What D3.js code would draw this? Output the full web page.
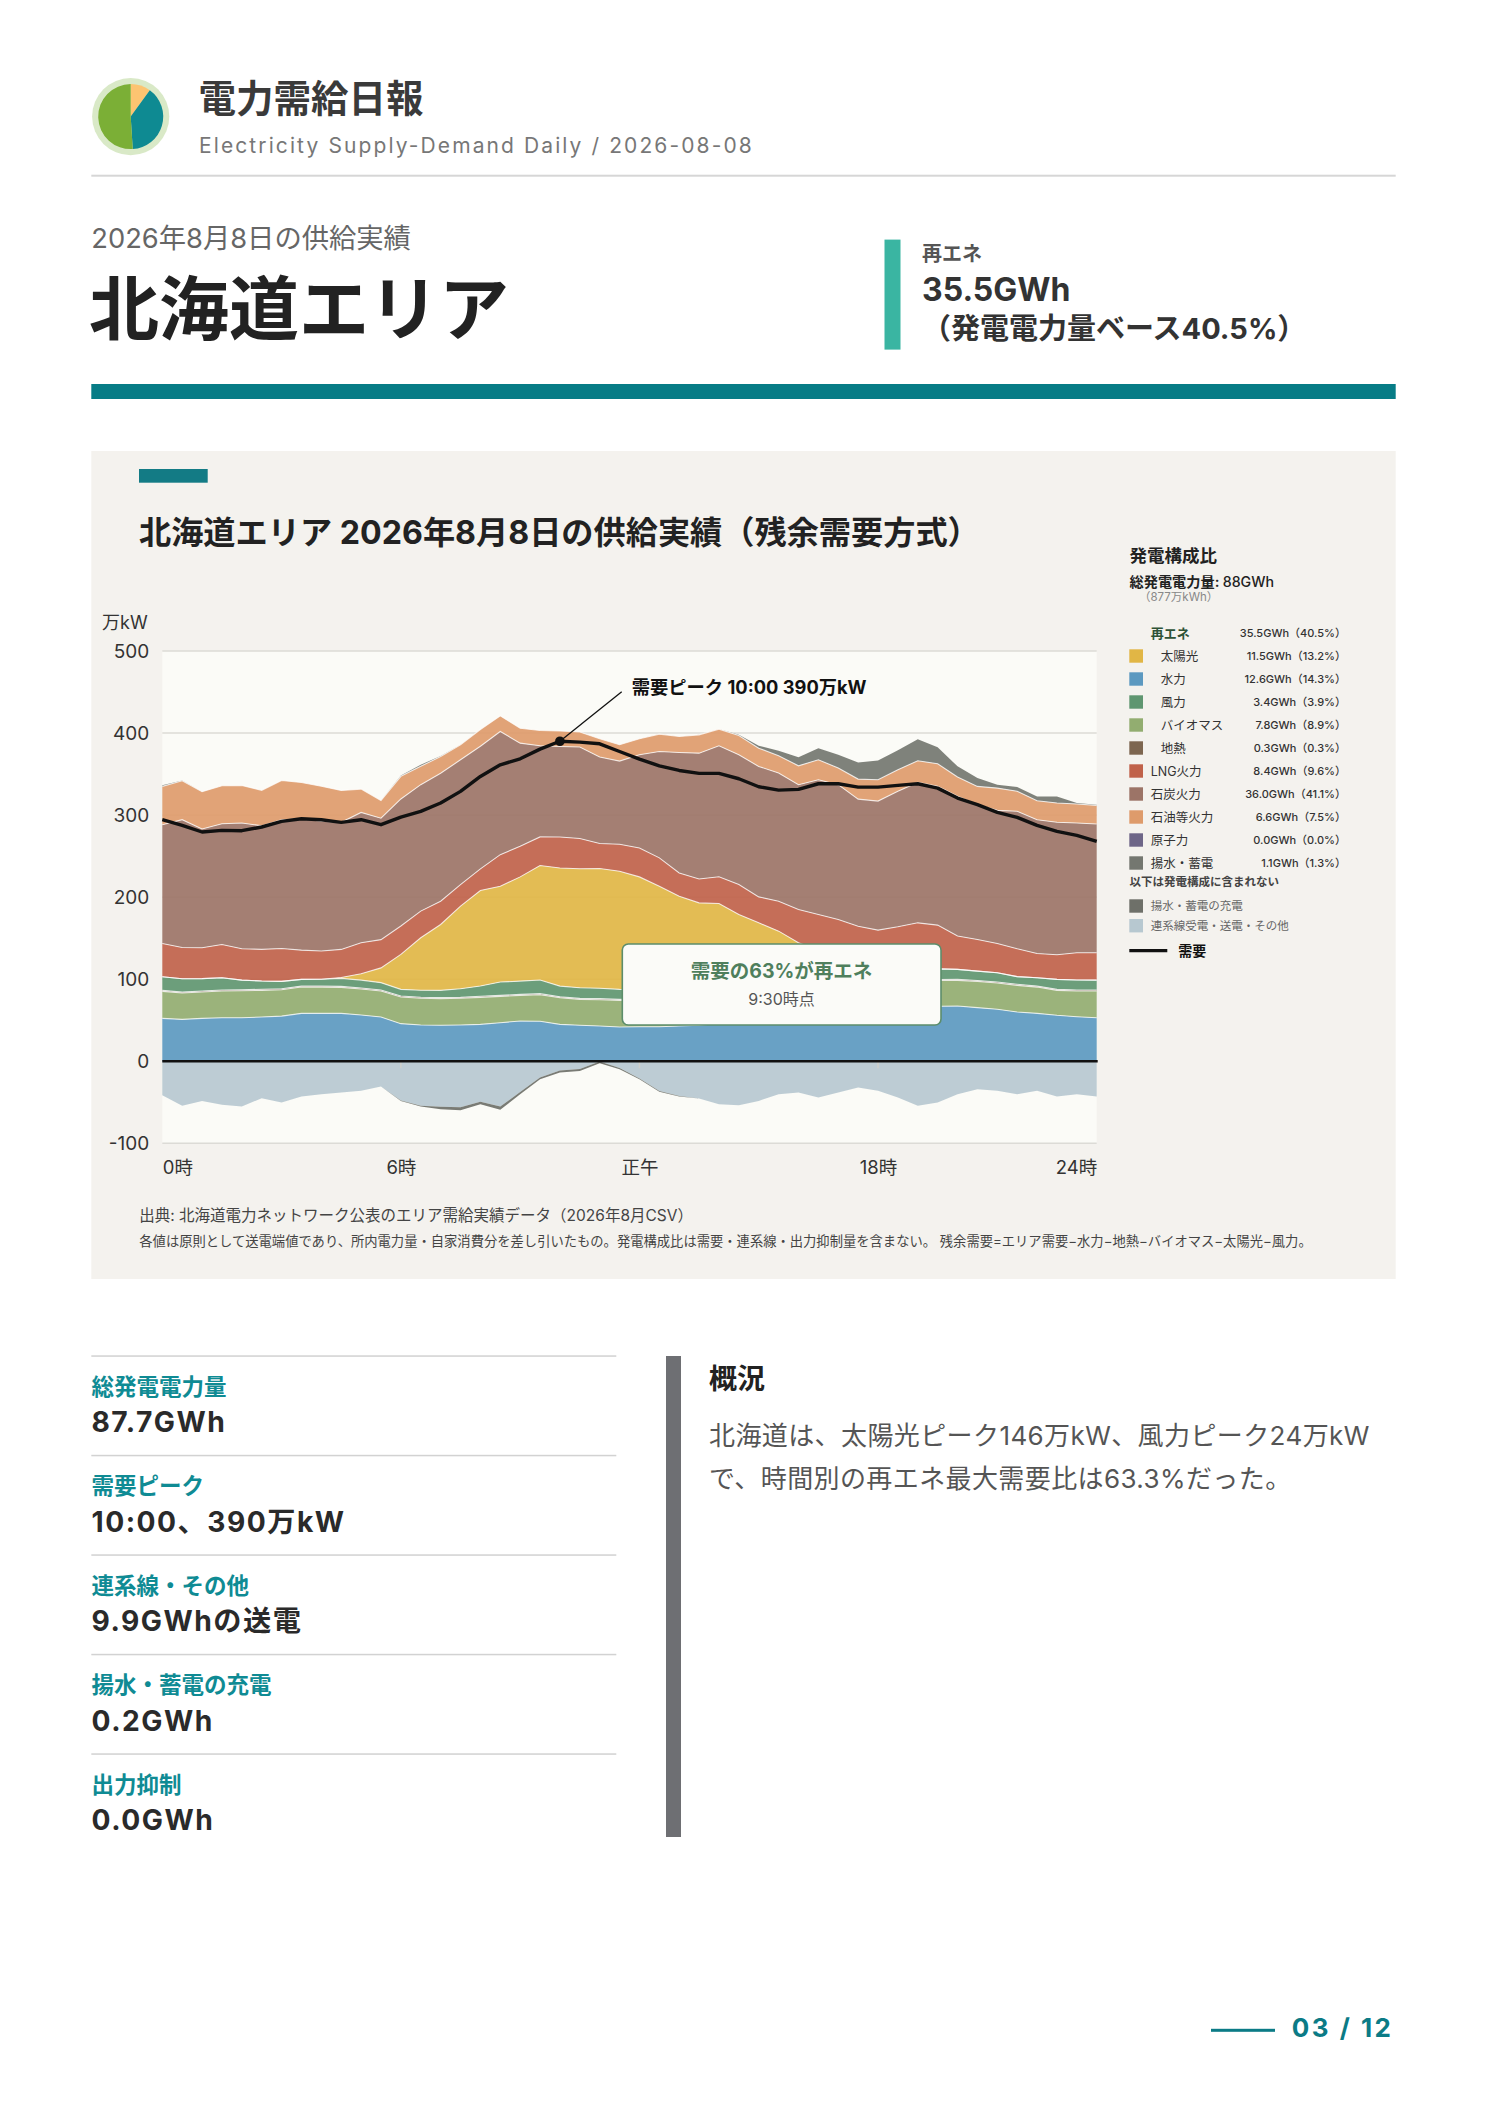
<!DOCTYPE html>
<html lang="ja">
<head>
<meta charset="UTF-8">
<title>電力需給日報 北海道エリア</title>
<script src="https://cdn.jsdelivr.net/npm/d3@7"></script>
<style>
  body { margin: 0; background: #fff; }
  svg { display: block; font-family: Inter, 'Noto Sans CJK JP', 'Noto Sans', sans-serif; }
  text { dominant-baseline: central; }
</style>
</head>
<body>
<svg id="page" width="1488" height="2105"></svg>
<script>
// 30分値 (万kW), 0:00 〜 23:30
const demand = [294.4,287.5,279.4,281.4,281.0,285.5,292.4,295.6,294.4,291.2,294.4,288.3,297.6,304.5,314.7,328.9,
  347.1,361.3,368.6,380.4,390.0,388.9,386.9,377.5,368.2,360.1,354.4,350.8,350.8,344.3,334.6,330.5,
  331.3,338.2,338.2,334.1,334.1,336.2,338.2,332.9,320.8,312.7,303.3,297.2,287.5,280.2,275.3,268.0];
const hydro = [52.3,51.0,52.3,53.0,53.0,54.0,55.0,58.4,58.4,58.4,56.4,54.0,45.8,44.2,43.8,44.2,
  45.0,47.0,49.0,48.7,45.0,43.8,43.0,41.8,42.0,42.0,43.0,44.0,46.0,48.0,50.0,53.0,
  56.0,58.0,60.0,62.0,64.0,65.0,66.0,67.0,67.3,65.3,63.3,60.0,58.4,56.0,54.3,53.1];
const biomass = [32.9,32.1,32.1,32.6,33.0,32.4,32.2,32.0,32.0,31.6,31.6,31.6,32.5,32.5,32.5,32.5,
  32.9,32.1,31.3,32.4,32.5,31.6,32.0,32.4,32.3,32.2,32.0,31.8,31.8,31.6,31.6,31.4,
  31.3,31.3,31.2,31.2,31.3,31.3,31.3,31.4,31.3,32.0,32.0,32.5,32.0,30.4,31.3,32.5];
const geothermal = [1.2,1.2,1.3,1.2,1.2,1.3,1.2,1.2,1.3,1.2,1.2,1.3,1.2,1.3,1.2,1.2,
  1.3,1.2,1.2,1.3,1.2,1.2,1.3,1.2,1.2,1.3,1.2,1.2,1.3,1.2,1.2,1.3,
  1.2,1.2,1.3,1.2,1.2,1.3,1.2,1.2,1.3,1.2,1.2,1.3,1.2,1.2,1.3,1.2];
const wind = [16.6,16.3,15.0,15.0,11.7,10.1,8.9,8.2,8.2,9.8,9.7,8.9,8.1,8.5,8.9,10.5,
  12.5,16.2,16.2,16.6,12.9,13.0,12.6,12.2,12.0,12.0,14.0,17.0,20.0,23.0,24.0,22.0,
  19.0,17.0,15.0,14.0,13.5,13.0,13.0,13.0,12.1,11.4,11.4,9.3,10.2,12.2,12.1,12.1];
const solar = [0,0,0,0,0,0,0,0,0,1.0,7.7,18.0,42.6,64.0,80.3,100.6,
  116.4,116.8,127.0,139.5,144.0,145.0,146.0,144.0,137.2,125.9,110.9,99.0,93.2,75.0,61.9,50.9,
  36.9,28.0,20.0,12.0,6.0,2.0,0.3,0,0,0,0,0,0,0,0,0];
const lng = [40.6,38.1,37.7,40.5,38.2,38.6,40.2,35.6,34.4,34.3,37.8,34.4,34.6,32.5,28.3,26.3,
  26.3,38.5,37.3,34.9,37.7,36.9,30.4,32.8,35.3,34.5,28.4,29.2,32.5,36.5,31.6,36.5,
  40.5,43.3,45.3,44.2,43.8,51.3,56.9,53.3,40.6,38.5,35.7,34.1,29.6,30.0,33.3,33.3];
const coal = [144.7,155.7,144.7,147.2,153.2,150.7,156.9,160.2,158.2,154.9,158.9,148.0,154.9,154.1,156.0,152.1,
  149.6,150.1,125.7,111.1,110.3,111.5,105.5,101.4,113.5,129.7,146.8,153.3,159.7,158.2,159.0,156.2,
  152.1,164.3,164.3,154.9,157.3,165.1,171.1,169.1,170.3,164.3,162.2,167.5,163.0,161.4,158.1,156.9];
const oil = [46.7,47.4,45.5,46.3,45.9,43.1,47.9,44.2,42.6,38.9,28.4,21.5,27.6,22.3,20.5,18.2,
  20.3,19.0,18.2,18.6,19.0,18.2,22.3,19.9,19.5,21.1,19.5,22.3,20.3,23.5,22.3,21.1,
  23.1,24.3,20.3,24.4,26.0,26.3,26.4,27.5,23.5,22.3,27.1,24.3,23.1,23.5,23.2,22.7];
const nuclear = [0,0,0,0,0,0,0,0,0,0,0,0,0,0,0,0,
  0,0,0,0,0,0,0,0,0,0,0,0,0,0,0,0,
  0,0,0,0,0,0,0,0,0,0,0,0,0,0,0,0];
const pumpGen = [1.5,0.5,0,0,0,0,0,0,0,0,0,0,1.0,2.0,0.5,0,
  0,0,0,0,0,0,0,0,0,0,0,0,0,1.0,3.0,6.0,
  10.5,14.2,16.2,20.2,23.5,23.6,26.3,20.3,13.0,10.1,4.1,5.2,5.3,8.1,1.2,0.9];
const interconnect = [-41.4,-54.3,-48.3,-53.1,-55.2,-45.0,-50.3,-43.0,-40.1,-38.1,-36.1,-30.8,-47.8,-54.2,-55.4,-56.1,
  -49.3,-55.2,-37.6,-19.9,-11.3,-9.3,-0.4,-8.2,-20.9,-36.3,-42.5,-45.4,-52.3,-53.5,-48.3,-40.1,
  -38.1,-44.2,-38.1,-32.0,-36.1,-44.2,-54.3,-50.3,-40.1,-34.1,-36.1,-40.1,-36.1,-43.0,-40.1,-43.0];
const pumpCharge = [0,0,0,0,0,0,0,0,0,0,0,0,-0.5,-1.0,-3.0,-3.5,
  -3.0,-4.0,-2.5,-2.0,-2.5,-2.5,-2.0,-1.5,-1.0,-1.0,-0.5,0,0,0,0,0,
  0,0,0,0,0,0,0,0,0,0,0,0,0,0,0,0];

const yTicks = [-100, 0, 100, 200, 300, 400, 500];
const xTickSlots = [0, 12, 24, 36, 47];
const xTickLabels = ['0時', '6時', '正午', '18時', '24時'];

const legendLabels = ['太陽光', '水力', '風力', 'バイオマス', '地熱', 'LNG火力', '石炭火力', '石油等火力', '原子力', '揚水・蓄電'];
const legendValues = ['11.5GWh（13.2%）', '12.6GWh（14.3%）', '3.4GWh（3.9%）', '7.8GWh（8.9%）', '0.3GWh（0.3%）',
  '8.4GWh（9.6%）', '36.0GWh（41.1%）', '6.6GWh（7.5%）', '0.0GWh（0.0%）', '1.1GWh（1.3%）'];
const legendExtra = ['揚水・蓄電の充電', '連系線受電・送電・その他'];

const statLabels = ['総発電電力量', '需要ピーク', '連系線・その他', '揚水・蓄電の充電', '出力抑制'];
const statValues = ['87.7GWh', '10:00、390万kW', '9.9GWhの送電', '0.2GWh', '0.0GWh'];

const posKeys = ['hydro', 'biomass', 'geothermal', 'wind', 'solar', 'lng', 'coal', 'oil', 'nuclear', 'pumpGen'];
const negKeys = ['interconnect', 'pumpCharge'];
const colors = {
  solar: '#e1b645', hydro: '#5c99c0', wind: '#5f9670', biomass: '#92ad70', geothermal: '#7d6650',
  lng: '#c0624a', coal: '#9c7467', oil: '#de9b6b', nuclear: '#6e6688', pumpGen: '#747770',
  pumpCharge: '#6e7069', interconnect: '#b7c8d0'
};
const legendKeys = ['solar', 'hydro', 'wind', 'biomass', 'geothermal', 'lng', 'coal', 'oil', 'nuclear', 'pumpGen'];

const svg = d3.select('#page');
svg.append('rect').attr('width', 1488).attr('height', 2105).attr('fill', '#fff');

function label(g, x, y, s, size, fill, weight, anchor) {
  return g.append('text').attr('x', x).attr('y', y).attr('font-size', size)
    .attr('fill', fill).attr('font-weight', weight || 400)
    .attr('text-anchor', anchor || 'start').text(s);
}

const left = 91.3, pageW = 1304.4;

// ---- header ----
const logo = svg.append('g').attr('transform', 'translate(130.7,116.6)');
logo.append('circle').attr('r', 38.6).attr('fill', '#d9e9c7');
const logoShares = [0.1, 0.39, 0.51];
const logoColors = ['#fcc471', '#0e8a92', '#7baf36'];
logo.selectAll('path').data(d3.pie().sort(null)(logoShares)).join('path')
  .attr('d', d3.arc().innerRadius(0).outerRadius(32.5))
  .attr('fill', (d, i) => logoColors[i]);

label(svg, 198.6, 98, '電力需給日報', 37.5, '#3a3a3a', 700);
label(svg, 199, 145, 'Electricity Supply-Demand Daily / 2026-08-08', 21, '#777').attr('letter-spacing', 2.1);
svg.append('rect').attr('x', left).attr('y', 174.7).attr('width', pageW).attr('height', 2).attr('fill', '#d6d6d6');

label(svg, 91.3, 238, '2026年8月8日の供給実績', 27.3, '#666');
label(svg, 89, 309, '北海道エリア', 70, '#222', 700);
svg.append('rect').attr('x', 884.5).attr('y', 239.6).attr('width', 16).attr('height', 110).attr('fill', '#3ab5a2');
label(svg, 922, 254, '再エネ', 20, '#555', 700);
label(svg, 922, 289, '35.5GWh', 32, '#333', 700);
label(svg, 922, 328, '（発電電力量ベース40.5%）', 29, '#333', 700);
svg.append('rect').attr('x', left).attr('y', 384).attr('width', pageW).attr('height', 15).attr('fill', '#077c86');

// ---- chart panel ----
svg.append('rect').attr('x', left).attr('y', 451).attr('width', pageW).attr('height', 828).attr('fill', '#f4f2ee');
svg.append('rect').attr('x', 139).attr('y', 469).attr('width', 68.7).attr('height', 13.7).attr('fill', '#137b85');
label(svg, 139, 532.5, '北海道エリア 2026年8月8日の供給実績（残余需要方式）', 32.2, '#222', 700);

const x = d3.scaleLinear().domain([0, 47]).range([162.3, 1096.7]);
const y = d3.scaleLinear().domain([-100, 500]).range([1143.3, 651]);

const rows = demand.map((d, i) => ({
  hydro: hydro[i], biomass: biomass[i], geothermal: geothermal[i], wind: wind[i], solar: solar[i],
  lng: lng[i], coal: coal[i], oil: oil[i], nuclear: nuclear[i], pumpGen: pumpGen[i],
  interconnect: interconnect[i], pumpCharge: pumpCharge[i]
}));
const posStack = d3.stack().keys(posKeys)(rows);
const negStack = d3.stack().keys(negKeys)(rows);
const layers = negStack.concat(posStack);

const plot = svg.append('g');
plot.append('rect').attr('x', x(0)).attr('y', y(500)).attr('width', x(47) - x(0)).attr('height', y(-100) - y(500))
  .attr('fill', '#fbfbf7');
plot.selectAll('line.grid').data(yTicks).join('line').attr('class', 'grid')
  .attr('x1', x(0)).attr('x2', x(47)).attr('y1', d => y(d)).attr('y2', d => y(d))
  .attr('stroke', '#dcdbd6').attr('stroke-width', 1.4);

const area = d3.area().x((d, i) => x(i)).y0(d => y(d[0])).y1(d => y(d[1]));
const edge = d3.line().x((d, i) => x(i)).y(d => y(d[1]));
plot.selectAll('path.layer').data(layers).join('path').attr('class', 'layer')
  .attr('d', area).attr('fill', d => colors[d.key]).attr('fill-opacity', 0.92);
plot.selectAll('path.edge').data(posStack.slice(0, 8)).join('path').attr('class', 'edge')
  .attr('d', edge).attr('fill', 'none').attr('stroke', '#fff').attr('stroke-opacity', 0.75).attr('stroke-width', 1.1);

plot.selectAll('line.xtick').data(xTickSlots.slice(1, 4)).join('line').attr('class', 'xtick')
  .attr('x1', d => x(d)).attr('x2', d => x(d)).attr('y1', y(0)).attr('y2', y(0) + 7)
  .attr('stroke', '#cfcfca').attr('stroke-width', 1.4);
plot.append('line').attr('x1', x(0)).attr('x2', x(47) + 1).attr('y1', y(0)).attr('y2', y(0))
  .attr('stroke', '#111').attr('stroke-width', 2.6);

plot.append('path').datum(demand)
  .attr('d', d3.line().x((d, i) => x(i)).y(d => y(d)))
  .attr('fill', 'none').attr('stroke', '#111').attr('stroke-width', 3.4).attr('stroke-linejoin', 'round');

// peak marker
const peakIdx = d3.maxIndex(demand);
plot.append('line').attr('x1', x(peakIdx)).attr('y1', y(demand[peakIdx]))
  .attr('x2', 621.7).attr('y2', 691.7).attr('stroke', '#111').attr('stroke-width', 1.3);
plot.append('circle').attr('cx', x(peakIdx)).attr('cy', y(demand[peakIdx])).attr('r', 4.8).attr('fill', '#111');
label(plot, 631.7, 686.5, '需要ピーク 10:00 390万kW', 18.3, '#111', 700);

// renewables share callout
plot.append('rect').attr('x', 622.3).attr('y', 944).attr('width', 318.7).attr('height', 81).attr('rx', 6)
  .attr('fill', '#fbfbf8').attr('stroke', '#5c8d6b').attr('stroke-width', 1.6);
label(plot, 781.6, 970.5, '需要の63%が再エネ', 19.5, '#4f7f5d', 700, 'middle');
label(plot, 781.6, 998.5, '9:30時点', 16, '#555', 400, 'middle');

// axes
svg.append('g').attr('transform', `translate(${x(0)},0)`)
  .call(d3.axisLeft(y).tickValues(yTicks).tickFormat(d => String(d)).tickSize(0).tickPadding(13))
  .call(g => g.select('.domain').remove())
  .attr('font-family', null).attr('font-size', 19)
  .call(g => g.selectAll('text').attr('dy', 0).attr('fill', '#333'));
label(svg, 102, 622.6, '万kW', 18, '#333');

svg.append('g').attr('transform', `translate(0,${y(-100)})`)
  .call(d3.axisBottom(x).tickValues(xTickSlots).tickFormat((d, i) => xTickLabels[i]).tickSize(0).tickPadding(24.2))
  .call(g => g.select('.domain').remove())
  .attr('font-family', null).attr('font-size', 18.5)
  .call(g => g.selectAll('text').attr('dy', 0).attr('fill', '#333')
    .attr('text-anchor', (d, i) => i === 0 ? 'start' : (i === xTickSlots.length - 1 ? 'end' : 'middle')));

label(svg, 139.3, 1215, '出典: 北海道電力ネットワーク公表のエリア需給実績データ（2026年8月CSV）', 15.5, '#444');
label(svg, 139.3, 1240.7, '各値は原則として送電端値であり、所内電力量・自家消費分を差し引いたもの。発電構成比は需要・連系線・出力抑制量を含まない。 残余需要=エリア需要−水力−地熱−バイオマス−太陽光−風力。', 13.3, '#444');

// ---- legend ----
const lg = svg.append('g');
label(lg, 1129.5, 555, '発電構成比', 17.5, '#222', 700);
const tot = label(lg, 1129.5, 580.7, '', 14.2, '#222', 700);
tot.append('tspan').text('総発電電力量: ');
tot.append('tspan').attr('font-weight', 500).text('88GWh');
label(lg, 1139, 596.7, '（877万kWh）', 11.5, '#888');
label(lg, 1150.7, 633.3, '再エネ', 13, '#2d5236', 700);
label(lg, 1346, 633.3, '35.5GWh（40.5%）', 11, '#333', 500, 'end');
const rowsG = lg.selectAll('g.row').data(legendKeys).join('g').attr('class', 'row')
  .attr('transform', (d, i) => `translate(0,${656 + 23 * i})`);
rowsG.append('rect').attr('x', 1129.3).attr('y', -6.7).attr('width', 13.7).attr('height', 13.4)
  .attr('fill', d => colors[d]);
rowsG.append('text').attr('x', (d, i) => i < 5 ? 1160.7 : 1150.7).attr('font-size', 12.5).attr('fill', '#333')
  .text((d, i) => legendLabels[i]);
rowsG.append('text').attr('x', 1346).attr('text-anchor', 'end').attr('font-size', 11).attr('font-weight', 500)
  .attr('fill', '#333').text((d, i) => legendValues[i]);
label(lg, 1129.5, 881.7, '以下は発電構成に含まれない', 11.5, '#444', 700);
const extraG = lg.selectAll('g.extra').data(['pumpCharge', 'interconnect']).join('g').attr('class', 'extra')
  .attr('transform', (d, i) => `translate(0,${906 + 19.7 * i})`);
extraG.append('rect').attr('x', 1129.3).attr('y', -6.7).attr('width', 13.7).attr('height', 13.4)
  .attr('fill', d => colors[d]);
extraG.append('text').attr('x', 1150.7).attr('font-size', 11.5).attr('fill', '#666').text((d, i) => legendExtra[i]);
lg.append('line').attr('x1', 1129.3).attr('x2', 1167.3).attr('y1', 950.7).attr('y2', 950.7)
  .attr('stroke', '#111').attr('stroke-width', 3.3);
label(lg, 1178.3, 950.7, '需要', 14, '#111', 700);

// ---- stats ----
const st = svg.append('g');
st.selectAll('rect.sep').data(statLabels).join('rect').attr('class', 'sep')
  .attr('x', left).attr('y', (d, i) => 1355.3 + 99.5 * i).attr('width', 525).attr('height', 1.5).attr('fill', '#d2d2d2');
st.selectAll('text.sl').data(statLabels).join('text').attr('class', 'sl')
  .attr('x', 91.5).attr('y', (d, i) => 1386 + 99.5 * i).attr('font-size', 22.5).attr('font-weight', 700)
  .attr('fill', '#0f8b94').text(d => d);
st.selectAll('text.sv').data(statValues).join('text').attr('class', 'sv')
  .attr('x', 91.5).attr('y', (d, i) => 1422 + 99.5 * i).attr('font-size', 28.2).attr('font-weight', 700)
  .attr('letter-spacing', 1.5).attr('fill', '#2a2a2a').text(d => d);

svg.append('rect').attr('x', 666).attr('y', 1356).attr('width', 15).attr('height', 481).attr('fill', '#6e6f73');
label(svg, 709, 1379, '概況', 28, '#222', 700);
label(svg, 709, 1435, '北海道は、太陽光ピーク146万kW、風力ピーク24万kW', 26, '#555').attr('letter-spacing', 0.4);
label(svg, 709, 1478.3, 'で、時間別の再エネ最大需要比は63.3%だった。', 26, '#555').attr('letter-spacing', 0.4);

// ---- page number ----
svg.append('rect').attr('x', 1211).attr('y', 2028.8).attr('width', 64).attr('height', 3).attr('fill', '#0b7b86');
label(svg, 1291.7, 2027.7, '03 / 12', 26, '#0b7b86', 700).attr('letter-spacing', 2.5);
</script>
</body>
</html>
